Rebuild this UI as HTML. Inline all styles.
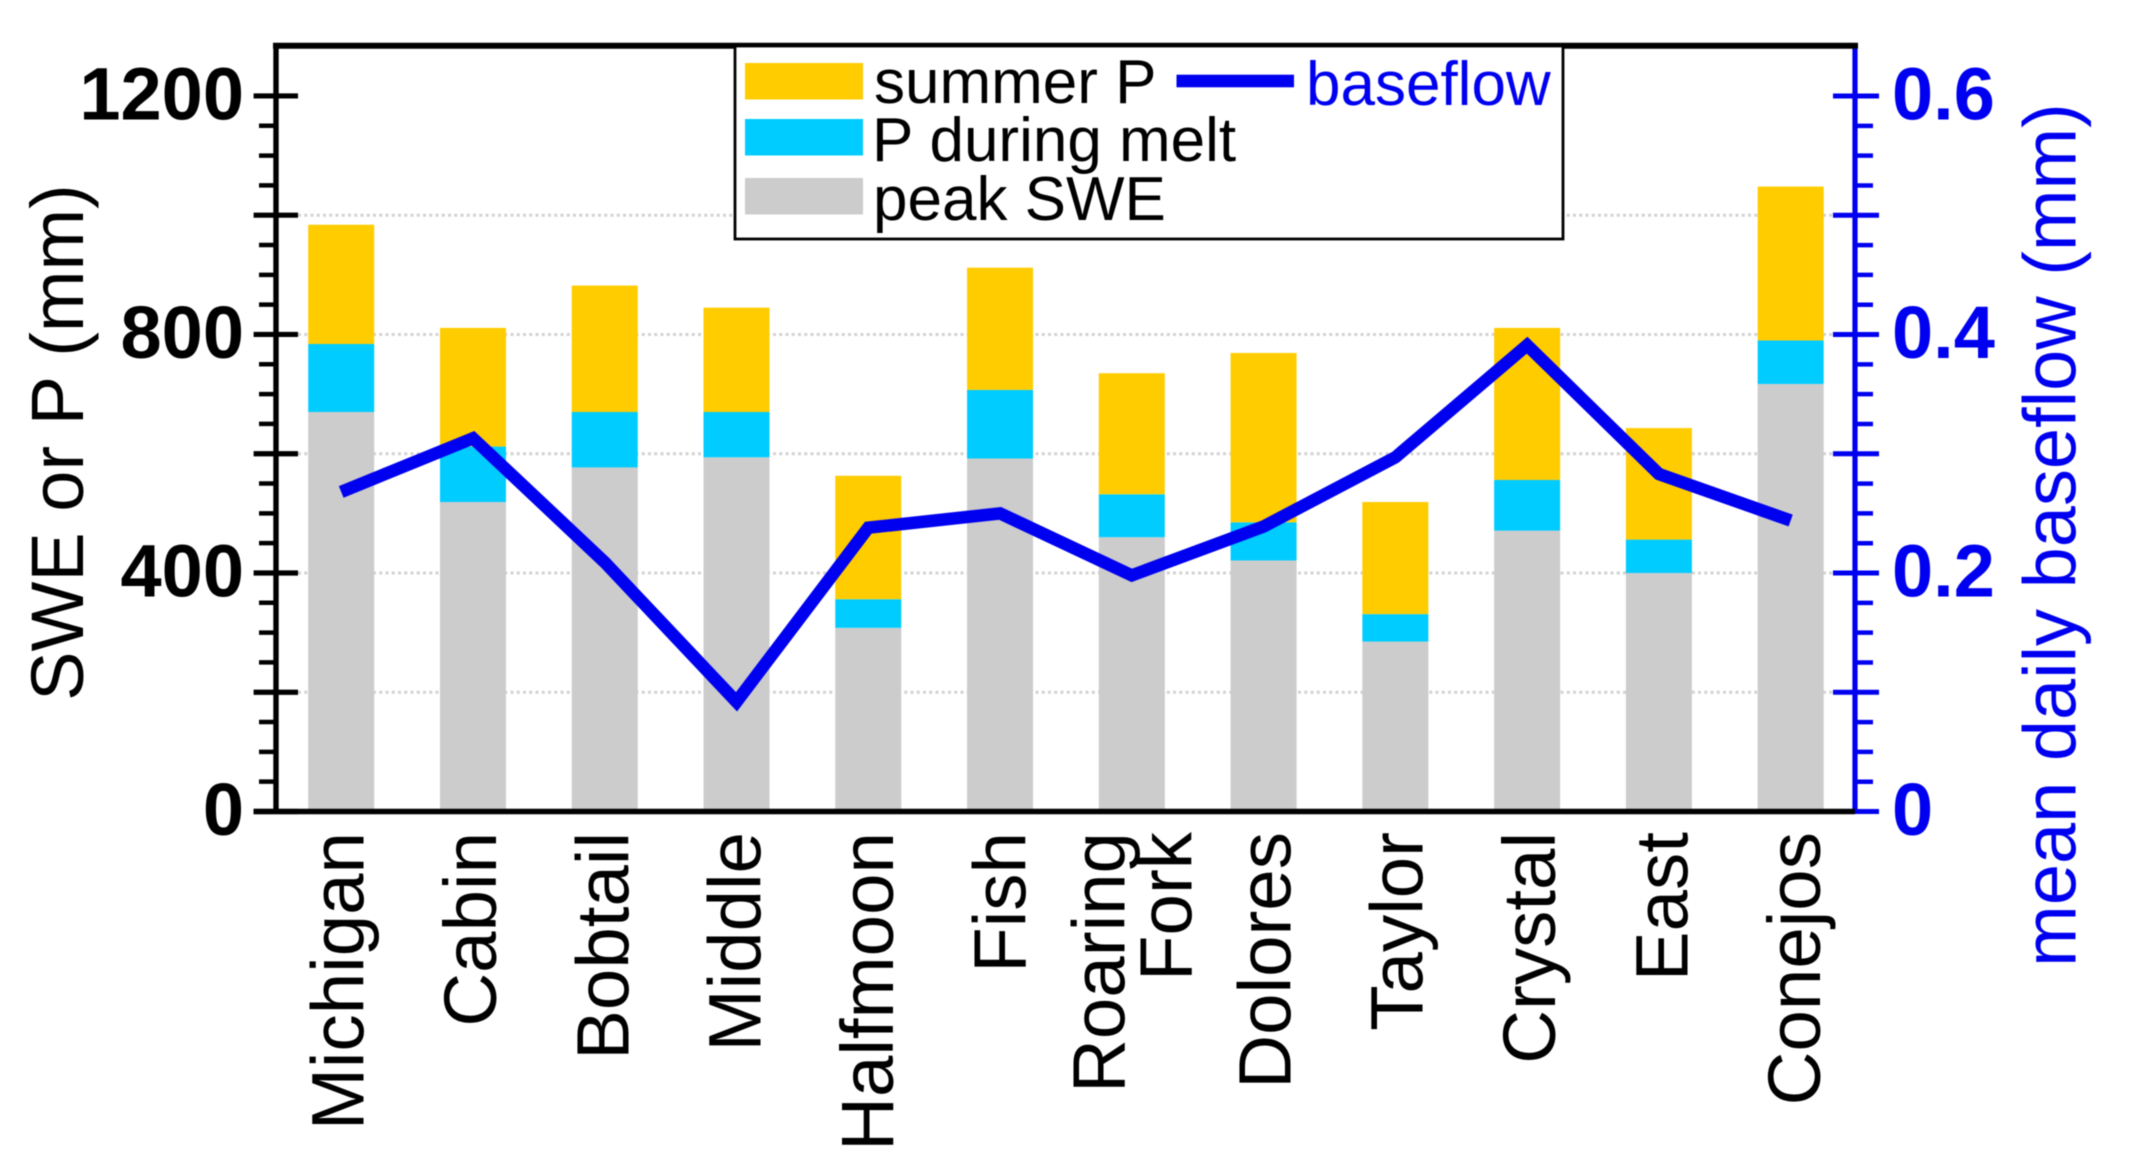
<!DOCTYPE html>
<html lang="en">
<head>
<meta charset="utf-8">
<title>SWE, precipitation and baseflow by basin</title>
<style>
html,body{margin:0;padding:0;background:#fff;}
svg{display:block;filter:blur(0.6px);}
text{font-family:"Liberation Sans",Arial,sans-serif;}
</style>
</head>
<body>
<svg id="chart" xmlns="http://www.w3.org/2000/svg" width="2139" height="1157" viewBox="0 0 2139 1157">
  <rect x="0" y="0" width="2139" height="1157" fill="#ffffff"/>
  <g id="grid"></g>
  <g id="bars"></g>
  <g id="axes"></g>
  <g id="series"></g>
  <g id="xlabels"></g>
  <text transform="translate(83,442.5) rotate(-90)" text-anchor="middle" font-size="74" fill="#000">SWE or P (mm)</text>
  <text transform="translate(2075.5,535) rotate(-90)" text-anchor="middle" font-size="74" fill="#0000f0">mean daily baseflow (mm)</text>
  <g>
    <rect x="735" y="46" width="828" height="193" fill="#fff" stroke="#000" stroke-width="2.8"/>
    <rect x="745" y="63" width="118" height="36.5" fill="#ffcc00"/>
    <text x="874" y="103" font-size="62" fill="#000">summer P</text>
    <rect x="745" y="119" width="118" height="36.5" fill="#00ccff"/>
    <text x="872" y="161" font-size="62" fill="#000">P during melt</text>
    <rect x="745" y="178" width="118" height="36.5" fill="#cccccc"/>
    <text x="873" y="220" font-size="62" fill="#000">peak SWE</text>
    <rect x="1176.5" y="74.7" width="117.5" height="12.6" fill="#0000f0"/>
    <text x="1306" y="105" font-size="62" fill="#0000f0">baseflow</text>
  </g>
</svg>
<script>
const categories = ["Michigan","Cabin","Bobtail","Middle","Halfmoon","Fish","Roaring|Fork","Dolores","Taylor","Crystal","East","Conejos"];
const peakSwe = [670,519,577,594,308,592,460,421,285,471,400,717];
const meltP = [114,93,93,76,48,115,72,64,46,85,56,73];
const summerP = [200,199,212,175,207,205,203,284,188,255,187,258];
const baseflow = [0.268,0.313,0.209,0.092,0.238,0.250,0.198,0.239,0.297,0.391,0.283,0.244];
const leftTickLabels = [0,400,800,1200];
const rightTickLabels = [0,0.2,0.4,0.6];
const gridValues = [200,400,600,800,1000];

const NS = "http://www.w3.org/2000/svg";
const plotTop = 45.7, plotBottom = 811.5, leftX = 276, rightX = 1855;
const yLeft = v => plotBottom - v * 0.5963;
const yRight = v => plotBottom - v * 1192.5;
const xBand = i => 341.2 + i * 131.77;
const xLabel = i => 363.5 + i * 132.4;
const barWidth = 66;

function node(tag, parent, attrs, txt) {
  const el = document.createElementNS(NS, tag);
  for (const k in attrs) el.setAttribute(k, attrs[k]);
  if (txt !== undefined) el.textContent = txt;
  document.getElementById(parent).appendChild(el);
  return el;
}

gridValues.forEach(v => {
  const el = node("line", "grid", {x1:298, x2:1833, y1:yLeft(v), y2:yLeft(v), stroke:"#d2d2d2", "stroke-width":3, "stroke-dasharray":"3 3.25"});
  
  
});

categories.forEach((c, i) => {
  const name = c.replace("|", "-").toLowerCase();
  const x = xBand(i) - barWidth / 2;
  const a = peakSwe[i], b = a + meltP[i], t = b + summerP[i];
  const r1 = node("rect", "bars", {x:x, width:barWidth, y:yLeft(a), height:yLeft(0) - yLeft(a), fill:"#cccccc"});
  
  
  const r2 = node("rect", "bars", {x:x, width:barWidth, y:yLeft(b), height:yLeft(a) - yLeft(b), fill:"#00ccff"});
  
  
  const r3 = node("rect", "bars", {x:x, width:barWidth, y:yLeft(t), height:yLeft(b) - yLeft(t), fill:"#ffcc00"});
  
  

  const parts = c.split("|");
  parts.forEach((p, j) => {
    const bx = xLabel(i) + (j - (parts.length - 1) / 2) * 66.7;
    const tx = node("text", "xlabels", {transform:"translate(" + bx + ",832) rotate(-90)", "text-anchor":"end", "font-size":74.5, fill:"#000"}, p);
    
    
  });
});

// right axis (blue): long tick every 0.1, three short ticks between
for (let k = 0; k <= 24; k++) {
  const v = k * 0.025;
  const long = k % 4 === 0;
  const tick = node("line", "axes", {x1: long ? 1833 : rightX, x2: long ? 1879 : 1873, y1:yRight(v), y2:yRight(v), stroke:"#0000f0", "stroke-width": long ? 5 : 4.5});
  
  
}
const rAxis = node("line", "axes", {x1:rightX, x2:rightX, y1:43, y2:814, stroke:"#0000f0", "stroke-width":5.2});


rightTickLabels.forEach(v => {
  const t = node("text", "axes", {x:1892, y:yRight(v) + 23.5, "font-size":74, "font-weight":"bold", fill:"#0000f0"}, String(v));
  
  
});

// left axis (black): long tick every 200, three short ticks between
for (let k = 0; k <= 24; k++) {
  const v = k * 50;
  const long = k % 4 === 0;
  const tick = node("line", "axes", {x1: long ? 253.6 : 259, x2: long ? 298 : leftX, y1:yLeft(v), y2:yLeft(v), stroke:"#000", "stroke-width": long ? 5.2 : 4.5});
  
  
}
const lAxis = node("line", "axes", {x1:leftX, x2:leftX, y1:43, y2:814, stroke:"#000", "stroke-width":5.4});


const topAxis = node("line", "axes", {x1:273, x2:1858, y1:plotTop, y2:plotTop, stroke:"#000", "stroke-width":6});


const botAxis = node("line", "axes", {x1:253.6, x2:1855, y1:plotBottom, y2:plotBottom, stroke:"#000", "stroke-width":5.4});


leftTickLabels.forEach(v => {
  const t = node("text", "axes", {x:244, y:yLeft(v) + 23.5, "text-anchor":"end", "font-size":74, "font-weight":"bold", fill:"#000"}, String(v));
  
  
});

const linePts = baseflow.map((v, i) => xBand(i) + "," + yRight(v)).join(" ");
const poly = node("polyline", "series", {points:linePts, fill:"none", stroke:"#0000f0", "stroke-width":12.5, "stroke-linejoin":"miter", "stroke-miterlimit":10, "stroke-linecap":"butt"});


</script>
</body>
</html>
